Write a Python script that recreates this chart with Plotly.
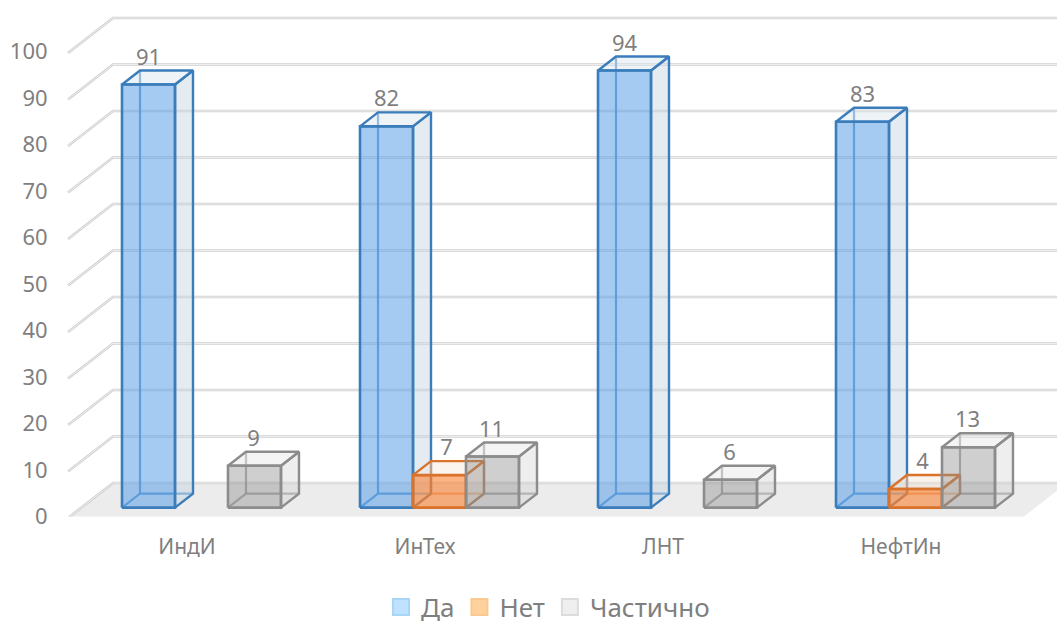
import plotly.graph_objects as go

categories = ["ИндИ", "ИнТех", "ЛНТ", "НефтИн"]
da = [91, 82, 94, 83]
net = [0, 7, 0, 4]
chastichno = [9, 11, 6, 13]
series_names = ["Да", "Нет", "Частично"]
y_ticks = [0, 10, 20, 30, 40, 50, 60, 70, 80, 90, 100]

TEXT = "#7f7f7f"
FONT = "Noto Sans"
PX_X, PX_Y = 238.0, 4.65          # pixels per category / per value unit
BAR_W = 53 / PX_X
BAR_DX, BAR_DY = 18 / PX_X, 14 / PX_Y
FLOOR_DX, FLOOR_DY = 45 / PX_X, 35 / PX_Y
BASE_Y = 1.9
FRONT_Y = -0.32
LEFT = -54 / PX_X
FLOOR_RIGHT = (1022 - 122) / PX_X
LABEL_UP = 25.5 / PX_Y
LABEL_SHIFT = [0, 7 / PX_X, -1 / PX_X]

styles = [
    dict(edge="#3b7dbb", inner="rgba(70,140,205,0.85)", front="rgba(91,160,232,0.55)",
         side="rgba(195,212,226,0.45)", top="rgba(215,228,238,0.45)", legend="#bfe3ff", legend_line="#a9d5f7"),
    dict(edge="#d9722a", inner="rgba(217,114,42,0.55)", front="rgba(251,130,50,0.6)",
         side="rgba(240,215,195,0.35)", top="rgba(245,228,212,0.4)", legend="#ffd19c", legend_line="#fbc98f"),
    dict(edge="#8c8c8c", inner="rgba(140,140,140,0.7)", front="rgba(140,140,140,0.42)",
         side="rgba(205,205,205,0.35)", top="rgba(228,228,228,0.4)", legend="#efefef", legend_line="#dcdcdc"),
]

fig = go.Figure()


def poly(xs, ys, fill=None, line=None, width=2.4):
    fig.add_trace(go.Scatter(
        x=xs, y=ys, mode="lines", showlegend=False, hoverinfo="skip",
        fill="toself" if fill else "none", fillcolor=fill,
        line=dict(color=line if line else "rgba(0,0,0,0)", width=width if line else 0),
    ))


# floor
poly([LEFT, FLOOR_RIGHT, FLOOR_RIGHT + FLOOR_DX, LEFT + FLOOR_DX, LEFT],
     [FRONT_Y, FRONT_Y, FRONT_Y + FLOOR_DY, FRONT_Y + FLOOR_DY, FRONT_Y], fill="#ececec")

# gridlines
XMAX = (1057 - 122) / PX_X
for v in y_ticks:
    gx = [LEFT, LEFT + FLOOR_DX, XMAX]
    gy = [v + FRONT_Y, v + FRONT_Y + FLOOR_DY, v + FRONT_Y + FLOOR_DY]
    poly(gx, gy, line="#d0d0d0", width=2.6)
    poly(gx, gy, line="#f2f2f2", width=0.9)

# bars
all_values = [da, net, chastichno]
label_x, label_y, label_t = [], [], []
for c in range(len(categories)):
    for s, values in enumerate(all_values):
        v = values[c]
        if not v:
            continue
        st = styles[s]
        x0 = c + s * BAR_W
        x1 = x0 + BAR_W
        y0 = BASE_Y
        y1 = BASE_Y + v
        dx, dy = BAR_DX, BAR_DY
        # hidden edges
        poly([x0 + dx, x0 + dx], [y0 + dy, y1 + dy], line=st["inner"], width=2.2)
        poly([x0, x0 + dx, x1 + dx], [y0, y0 + dy, y0 + dy], line=st["inner"], width=2.2)
        # side and top
        poly([x1, x1 + dx, x1 + dx, x1, x1], [y0, y0 + dy, y1 + dy, y1, y0], fill=st["side"], line=st["edge"])
        poly([x0, x0 + dx, x1 + dx, x1, x0], [y1, y1 + dy, y1 + dy, y1, y1], fill=st["top"], line=st["edge"])
        # front
        poly([x0, x1, x1, x0, x0], [y0, y0, y1, y1, y0], fill=st["front"], line=st["edge"], width=2.6)
        label_x.append(x0 + BAR_W / 2 + LABEL_SHIFT[s])
        label_y.append(y1 + LABEL_UP)
        label_t.append(str(v))

fig.add_trace(go.Scatter(
    x=label_x, y=label_y, text=label_t, mode="text", showlegend=False, hoverinfo="skip",
    textposition="middle center", textfont=dict(family=FONT, size=22, color=TEXT),
))

# legend entries
for name, st in zip(series_names, styles):
    fig.add_trace(go.Scatter(
        x=[None], y=[None], mode="markers", name=name,
        marker=dict(symbol="square", size=16, color=st["legend"],
                    line=dict(color=st["legend_line"], width=2)),
    ))

PLOT_LEFT, PLOT_BOTTOM = 64, 516.5
fig.update_layout(
    width=1057, height=624, autosize=False,
    margin=dict(l=0, r=0, t=0, b=0, autoexpand=False),
    paper_bgcolor="white", plot_bgcolor="white",
    font=dict(family=FONT, color=TEXT),
    xaxis=dict(
        domain=[PLOT_LEFT / 1057, 1],
        range=[(PLOT_LEFT - 122) / PX_X, XMAX],
        tickmode="array",
        tickvals=[i + 65 / PX_X for i in range(len(categories))],
        ticktext=categories,
        tickfont=dict(family=FONT, size=21, color=TEXT),
        ticks="outside", ticklen=11, tickcolor="rgba(0,0,0,0)",
        showgrid=False, zeroline=False, showline=False,
    ),
    yaxis=dict(
        domain=[(624 - PLOT_BOTTOM) / 624, 1],
        range=[0, PLOT_BOTTOM / PX_Y],
        tickmode="array", tickvals=y_ticks,
        tickfont=dict(family=FONT, size=22, color=TEXT),
        ticks="outside", ticklen=11, tickcolor="rgba(0,0,0,0)",
        showgrid=False, zeroline=False, showline=False,
    ),
    legend=dict(
        orientation="h", x=548 / 1057, xanchor="center", y=(624 - 607) / 624, yanchor="middle",
        font=dict(family=FONT, size=26, color=TEXT), itemwidth=30, bgcolor="rgba(0,0,0,0)",
    ),
)

fig.write_html("out.html", post_script="document.body.style.margin='0';", config=dict(displayModeBar=False))
